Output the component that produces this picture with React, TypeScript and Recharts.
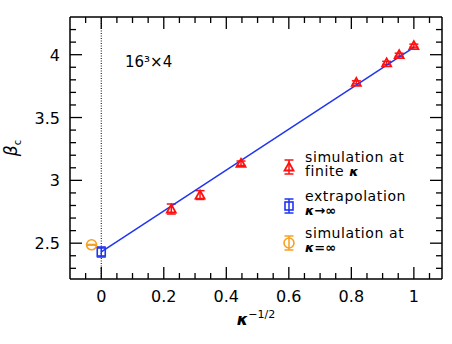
import {
  ComposedChart, Scatter, XAxis, YAxis, ErrorBar, ReferenceLine, Legend, Customized,
} from "recharts";

// kappa^-1/2 and beta_c at finite kappa
const finiteX = [0.224, 0.316, 0.447, 0.816, 0.913, 0.953, 1.0];
const finiteY = [2.772, 2.883, 3.136, 3.78, 3.935, 4.0, 4.072];
const finiteErr = [0.04, 0.035, 0.018, 0.012, 0.012, 0.012, 0.012];

// extrapolation kappa -> inf
const extrapX = [0];
const extrapY = [2.43];
const extrapErr = [0.04];

// simulation at kappa = inf (drawn slightly left of 0)
const infX = [-0.031];
const infY = [2.487];
const infErr = [0.003];

// linear fit
const fitX = [0, 1];
const fitY = [2.43, 4.058];

const xTicks = [-0.05, 0, 0.05, 0.1, 0.15, 0.2, 0.25, 0.3, 0.35, 0.4, 0.45, 0.5, 0.55, 0.6, 0.65, 0.7, 0.75, 0.8, 0.85, 0.9, 0.95, 1, 1.05];
const xMajor = [0, 0.2, 0.4, 0.6, 0.8, 1];
const yTicks = [2.3, 2.4, 2.5, 2.6, 2.7, 2.8, 2.9, 3, 3.1, 3.2, 3.3, 3.4, 3.5, 3.6, 3.7, 3.8, 3.9, 4, 4.1, 4.2];
const yMajor = [2.5, 3, 3.5, 4];

const legendTop = ["simulation at", "extrapolation", "simulation at"];
const legendPrefix = ["finite ", "", ""];
const legendKappa = ["κ", "κ→∞", "κ=∞"];

const RED = "#ff1010";
const BLUE = "#1f35f0";
const ORANGE = "#f7a021";
const FONT = "'DejaVu Sans', sans-serif";

const finite = finiteX.map((x, i) => ({ x, y: finiteY[i], err: finiteErr[i] }));
const extrap = extrapX.map((x, i) => ({ x, y: extrapY[i], err: extrapErr[i] }));
const inf = infX.map((x, i) => ({ x, y: infY[i], err: infErr[i] }));
const fit = fitX.map((x, i) => ({ x, y: fitY[i] }));

const isMajor = (list: number[], v: number) => list.some((m) => Math.abs(m - v) < 1e-6);

const Tri = ({ cx, cy, color }: { cx: number; cy: number; color: string }) => (
  <polygon
    points={`${cx},${cy - 4.5} ${cx + 4.5},${cy + 3.5} ${cx - 4.5},${cy + 3.5}`}
    fill="none" stroke={color} strokeWidth={1.8}
  />
);
const Sq = ({ cx, cy, color }: { cx: number; cy: number; color: string }) => (
  <rect x={cx - 4} y={cy - 4} width={8} height={8} fill="none" stroke={color} strokeWidth={1.6} />
);
const Circ = ({ cx, cy, color }: { cx: number; cy: number; color: string }) => (
  <circle cx={cx} cy={cy} r={5} fill="none" stroke={color} strokeWidth={1.6} />
);

const BottomTick = (p: any) => {
  const major = isMajor(xMajor, p.payload.value);
  return (
    <g>
      <line x1={p.x} x2={p.x} y1={p.y} y2={p.y - (major ? 12 : 6)} stroke="#000" strokeWidth={1.3} />
      {major && (
        <text x={p.x} y={p.y + 23} textAnchor="middle" fontSize={16} fontFamily={FONT} fill="#000">
          {String(p.payload.value)}
        </text>
      )}
    </g>
  );
};
const TopTick = (p: any) => {
  const major = isMajor(xMajor, p.payload.value);
  return <line x1={p.x} x2={p.x} y1={p.y} y2={p.y + (major ? 12 : 6)} stroke="#000" strokeWidth={1.3} />;
};
const LeftTick = (p: any) => {
  const major = isMajor(yMajor, p.payload.value);
  return (
    <g>
      <line x1={p.x} x2={p.x + (major ? 12 : 6)} y1={p.y} y2={p.y} stroke="#000" strokeWidth={1.3} />
      {major && (
        <text x={p.x - 10} y={p.y + 6} textAnchor="end" fontSize={16} fontFamily={FONT} fill="#000">
          {String(p.payload.value)}
        </text>
      )}
    </g>
  );
};
const RightTick = (p: any) => {
  const major = isMajor(yMajor, p.payload.value);
  return <line x1={p.x} x2={p.x - (major ? 12 : 6)} y1={p.y} y2={p.y} stroke="#000" strokeWidth={1.3} />;
};

const legendSymbols = [
  { color: RED, Shape: Tri },
  { color: BLUE, Shape: Sq },
  { color: ORANGE, Shape: Circ },
];
const legendOffsets = [0, 39, 76];

const LegendBox = () => (
  <div style={{ position: "relative", width: 160, height: 110, fontFamily: FONT }}>
    {legendTop.map((t, i) => {
      const { color, Shape } = legendSymbols[i];
      return (
        <div key={i} style={{ position: "absolute", left: 0, top: legendOffsets[i], width: 160 }}>
          <svg width={20} height={30} style={{ position: "absolute", left: 0, top: 1 }}>
            <line x1={9} x2={9} y1={8} y2={22} stroke={color} strokeWidth={1.5} />
            <line x1={4.5} x2={13.5} y1={8} y2={8} stroke={color} strokeWidth={1.5} />
            <line x1={4.5} x2={13.5} y1={22} y2={22} stroke={color} strokeWidth={1.5} />
            <Shape cx={9} cy={15} color={color} />
          </svg>
          <div style={{ position: "absolute", left: 25, top: 0, fontSize: 14, lineHeight: "13px", whiteSpace: "nowrap", color: "#000", letterSpacing: 0.6 }}>
            {t}
          </div>
          <div style={{ position: "absolute", left: 25, top: 14, fontSize: 14, lineHeight: "13px", whiteSpace: "nowrap", color: "#000", letterSpacing: 0.6 }}>
            {legendPrefix[i]}
            <span style={{ fontWeight: "bold", fontStyle: "italic", fontSize: 13, letterSpacing: 0 }}>{legendKappa[i]}</span>
          </div>
        </div>
      );
    })}
  </div>
);

const Annotations = () => (
  <g fontFamily={FONT} fill="#000">
    <text x={125} y={67} fontSize={15}>16³×4</text>
    <text x={17} y={148} transform="rotate(-90, 17, 148)" textAnchor="middle" fontSize={17}>
      <tspan fontStyle="italic">β</tspan>
      <tspan fontSize={10} dy={4}>c</tspan>
    </text>
    <text x={256} y={325} textAnchor="middle" fontSize={16}>
      <tspan fontStyle="italic" fontWeight="bold">κ</tspan>
      <tspan fontSize={11} dy={-7}>−1/2</tspan>
    </text>
  </g>
);

export default function App() {
  return (
    <div style={{ position: "absolute", left: 0, top: 0, background: "#fff" }}>
      <ComposedChart width={452} height={344} margin={{ top: 0, right: 0, bottom: 0, left: 0 }}>
        <XAxis
          xAxisId="bottom" dataKey="x" type="number" domain={[-0.1, 1.09]} allowDataOverflow
          ticks={xTicks} interval={0} tick={<BottomTick />} tickLine={false} tickSize={0} tickMargin={0}
          height={65} axisLine={{ stroke: "#000", strokeWidth: 1.5 }}
        />
        <XAxis
          xAxisId="top" orientation="top" dataKey="x" type="number" domain={[-0.1, 1.09]} allowDataOverflow
          ticks={xTicks} interval={0} tick={<TopTick />} tickLine={false} tickSize={0} tickMargin={0}
          height={17} axisLine={{ stroke: "#000", strokeWidth: 1.5 }}
        />
        <YAxis
          yAxisId="left" dataKey="y" type="number" domain={[2.215, 4.3]} allowDataOverflow
          ticks={yTicks} interval={0} tick={<LeftTick />} tickLine={false} tickSize={0} tickMargin={0}
          width={70} axisLine={{ stroke: "#000", strokeWidth: 1.5 }}
        />
        <YAxis
          yAxisId="right" orientation="right" dataKey="y" type="number" domain={[2.215, 4.3]} allowDataOverflow
          ticks={yTicks} interval={0} tick={<RightTick />} tickLine={false} tickSize={0} tickMargin={0}
          width={10} axisLine={{ stroke: "#000", strokeWidth: 1.5 }}
        />
        <ReferenceLine xAxisId="bottom" yAxisId="left" x={0} stroke="#000" strokeWidth={1} strokeDasharray="1 1.5" />
        <Scatter
          xAxisId="bottom" yAxisId="left" data={fit} dataKey="y" name="fit" legendType="none"
          line={{ stroke: BLUE, strokeWidth: 1.5 }} shape={() => <g />} isAnimationActive={false}
        />
        <Scatter
          xAxisId="bottom" yAxisId="left" data={inf} dataKey="y" name="simulation at kappa=inf"
          shape={(p: any) => <Circ cx={p.cx} cy={p.cy} color={ORANGE} />} isAnimationActive={false}
        >
          <ErrorBar dataKey="err" direction="y" width={5} stroke={ORANGE} strokeWidth={1.5} isAnimationActive={false} />
        </Scatter>
        <Scatter
          xAxisId="bottom" yAxisId="left" data={extrap} dataKey="y" name="extrapolation"
          shape={(p: any) => <Sq cx={p.cx} cy={p.cy} color={BLUE} />} isAnimationActive={false}
        >
          <ErrorBar dataKey="err" direction="y" width={4.5} stroke={BLUE} strokeWidth={1.5} isAnimationActive={false} />
        </Scatter>
        <Scatter
          xAxisId="bottom" yAxisId="left" data={finite} dataKey="y" name="simulation at finite kappa"
          shape={(p: any) => <Tri cx={p.cx} cy={p.cy} color={RED} />} isAnimationActive={false}
        >
          <ErrorBar dataKey="err" direction="y" width={4.5} stroke={RED} strokeWidth={1.5} isAnimationActive={false} />
        </Scatter>
        <Legend
          layout="vertical" align="center" verticalAlign="middle"
          content={() => <LegendBox />}
          wrapperStyle={{ left: 280, top: 151, width: 165, height: 110 }}
        />
        <Customized component={Annotations} />
      </ComposedChart>
    </div>
  );
}
